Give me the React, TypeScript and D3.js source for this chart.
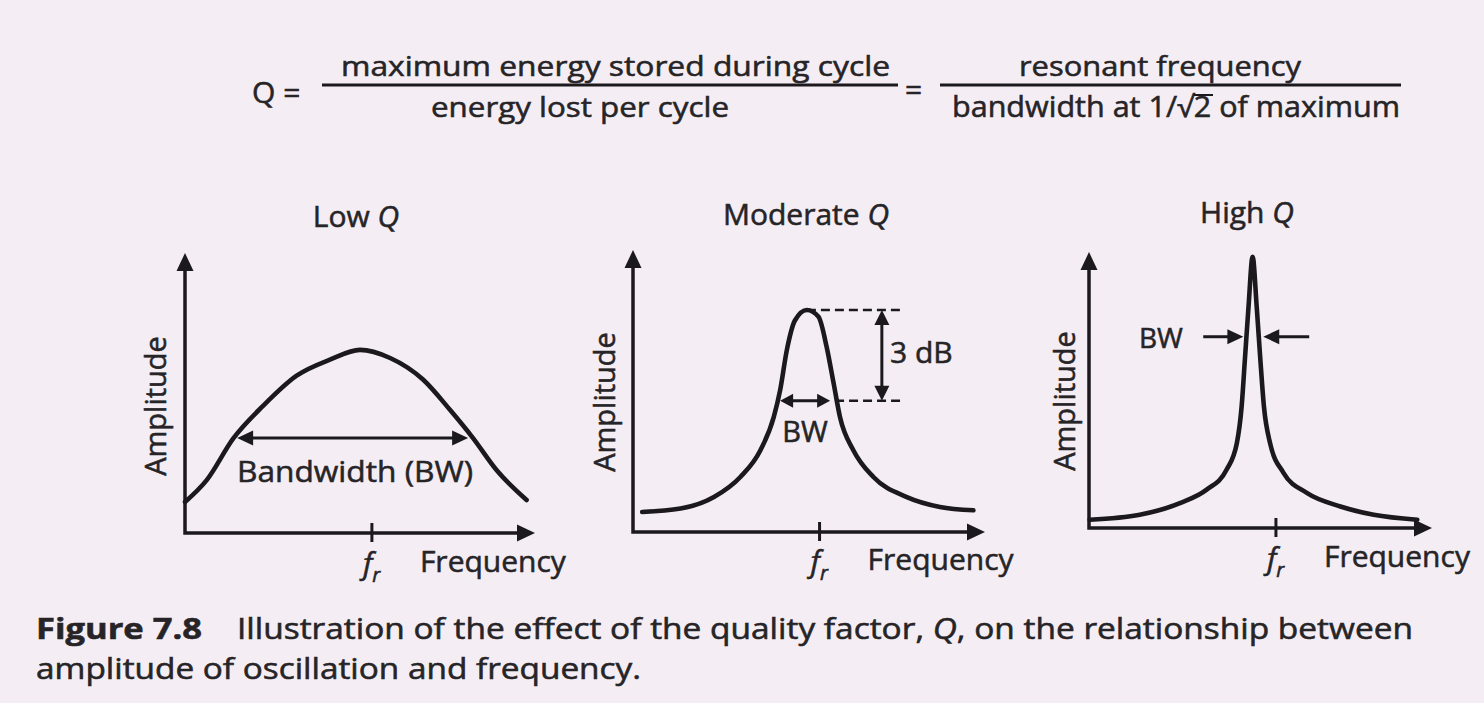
import React from 'react';
import * as d3 from 'd3';

// curve samples: frequency / amplitude, both axes run 0..10
const lowQFreq = [0, 0.62, 1.38, 2.23, 3.19, 4.14, 5.0, 5.86, 6.8, 7.57, 8.23, 8.9, 9.76];
const lowQAmp = [1.11, 1.89, 3.38, 4.54, 5.62, 6.19, 6.54, 6.25, 5.48, 4.4, 3.39, 2.25, 1.18];

const modQFreq = [0.26, 1.35, 2.3, 3.05, 3.62, 4.0, 4.18, 4.37, 4.6, 4.94, 5.27, 5.5, 5.7, 5.88, 6.26, 6.83, 7.78, 8.72, 9.67];
const modQAmp = [0.71, 0.83, 1.24, 1.95, 2.9, 4.08, 5.03, 6.45, 7.5, 7.87, 7.63, 6.57, 5.27, 4.08, 2.9, 1.95, 1.24, 0.89, 0.77];

const highQFreq = [0.02, 1.48, 2.65, 3.43, 4.01, 4.31, 4.45, 4.55, 4.65, 4.77, 4.89, 4.99, 5.1, 5.28, 5.67, 6.35, 7.33, 8.3, 9.57];
const highQAmp = [0.3, 0.48, 0.9, 1.39, 2.11, 3.07, 4.4, 6.2, 8.0, 9.83, 8.0, 6.2, 4.4, 3.07, 2.0, 1.27, 0.78, 0.48, 0.3];

// resonant frequency tick on each x axis
const resonance = [5.34, 5.3, 5.45];

// annotation values (data units)
const lowQBand = [1.49, 8.09]; // bandwidth arrow, left/right
const lowQBandLevel = 3.39;
const modQPeak = 7.87;
const modQHalf = 4.65;
const modQBand = [4.18, 5.6];
const modQDb = 7.07; // x of the 3 dB arrow
const modQDash = [4.94, 5.74, 7.59]; // top start, bottom start, end
const highQLevel = 6.93;
const highQArrows = [3.33, 4.5, 6.42, 5.08];

const INK = '#1b191c';
const TEXT = '#262427';
const BG = '#f4eef4';
const FONT = '"Open Sans", "Noto Sans", sans-serif';

// filled triangle pointing at (tx, ty) along angle
const head = (tx: number, ty: number, angle: number, len = 16, half = 8) => {
  const bx = tx - len * Math.cos(angle);
  const by = ty - len * Math.sin(angle);
  const px = -Math.sin(angle) * half;
  const py = Math.cos(angle) * half;
  return `M${tx},${ty}L${bx + px},${by + py}L${bx - px},${by - py}Z`;
};

const panels = [
  {title: 'Low', xr: [185, 535], yr: [533, 253], titleX: 356, titleY: 227, ampX: 166, ampY: 406, freqY: 572, freq: lowQFreq, amp: lowQAmp},
  {title: 'Moderate', xr: [633, 985], yr: [532, 250], titleX: 806, titleY: 225, ampX: 615, ampY: 402, freqY: 570, freq: modQFreq, amp: modQAmp},
  {title: 'High', xr: [1089, 1432], yr: [528, 252], titleX: 1247, titleY: 223, ampX: 1075, ampY: 401, freqY: 567, freq: highQFreq, amp: highQAmp},
];

const Panel = ({p, i}: {p: any; i: number}) => {
  const x = d3.scaleLinear().domain([0, 10]).range(p.xr);
  const y = d3.scaleLinear().domain([0, 10]).range(p.yr);
  const line = d3
    .line<number>()
    .x(d => x(p.freq[d]))
    .y(d => y(p.amp[d]))
    .curve(d3.curveMonotoneX);
  const idx = p.freq.map((_: number, k: number) => k);
  const tx = x(resonance[i]);
  const x0 = x(0), y0 = y(0), xEnd = x(10), yEnd = y(10);

  let notes: React.ReactNode = null;
  if (i === 0) {
    const ly = y(lowQBandLevel);
    notes = (
      <g>
        <line x1={x(lowQBand[0]) + 12} x2={x(lowQBand[1]) - 12} y1={ly} y2={ly} stroke={INK} strokeWidth={3} />
        <path d={head(x(lowQBand[0]), ly, Math.PI, 16, 7.5)} fill={INK} />
        <path d={head(x(lowQBand[1]), ly, 0, 16, 7.5)} fill={INK} />
        <text x={237} y={482} fontSize={30} textLength={236} lengthAdjust="spacingAndGlyphs">Bandwidth (BW)</text>
      </g>
    );
  } else if (i === 1) {
    const top = y(modQPeak), half = y(modQHalf), ax = x(modQDb);
    notes = (
      <g>
        <line x1={x(modQDash[0])} x2={x(modQDash[2])} y1={top} y2={top} stroke={INK} strokeWidth={2.5} strokeDasharray="9 5" />
        <line x1={x(modQDash[1])} x2={x(modQDash[2])} y1={half} y2={half} stroke={INK} strokeWidth={2.5} strokeDasharray="9 5" />
        <line x1={ax} x2={ax} y1={top + 10} y2={half - 10} stroke={INK} strokeWidth={3} />
        <path d={head(ax, top, -Math.PI / 2, 15, 7.5)} fill={INK} />
        <path d={head(ax, half, Math.PI / 2, 15, 7.5)} fill={INK} />
        <text x={890} y={363} fontSize={30}>3 dB</text>
        <line x1={x(modQBand[0]) + 8} x2={x(modQBand[1]) - 8} y1={half} y2={half} stroke={INK} strokeWidth={3} />
        <path d={head(x(modQBand[0]), half, Math.PI, 13, 7)} fill={INK} />
        <path d={head(x(modQBand[1]), half, 0, 13, 7)} fill={INK} />
        <text x={805} y={442} fontSize={29} textAnchor="middle">BW</text>
      </g>
    );
  } else {
    const ly = y(highQLevel);
    notes = (
      <g>
        <line x1={x(highQArrows[0])} x2={x(highQArrows[1]) - 10} y1={ly} y2={ly} stroke={INK} strokeWidth={3} />
        <path d={head(x(highQArrows[1]), ly, 0, 16, 7.5)} fill={INK} />
        <line x1={x(highQArrows[2])} x2={x(highQArrows[3]) + 10} y1={ly} y2={ly} stroke={INK} strokeWidth={3} />
        <path d={head(x(highQArrows[3]), ly, Math.PI, 16, 7.5)} fill={INK} />
        <text x={1161} y={348} fontSize={28} textAnchor="middle">BW</text>
      </g>
    );
  }

  return (
    <g>
      <text x={p.titleX} y={p.titleY} fontSize={30} textAnchor="middle">
        {p.title} <tspan fontStyle="italic">Q</tspan>
      </text>
      {/* axes */}
      <path d={`M${x0},${yEnd + 12}V${y0}H${xEnd - 12}`} fill="none" stroke={INK} strokeWidth={3.5} />
      <path d={head(x0, yEnd, -Math.PI / 2, 18, 8.5)} fill={INK} />
      <path d={head(xEnd, y0, 0, 18, 8.5)} fill={INK} />
      <line x1={tx} x2={tx} y1={y0 - 10} y2={y0 + 9} stroke={INK} strokeWidth={3} />
      <text x={tx - 9} y={p.freqY + 2} fontSize={30} fontStyle="italic">
        f<tspan fontSize={20} dy={8}>r</tspan>
      </text>
      <text x={tx + 48} y={p.freqY} fontSize={30}>Frequency</text>
      <text transform={`translate(${p.ampX},${p.ampY}) rotate(-90)`} fontSize={29} textAnchor="middle">Amplitude</text>
      <path d={line(idx) || ''} fill="none" stroke={INK} strokeWidth={4.6} strokeLinecap="round" strokeLinejoin="round" />
      {notes}
    </g>
  );
};

const App = () => (
  <svg
    width={1484}
    height={703}
    style={{position: 'absolute', left: 0, top: 0, background: BG}}
    fontFamily={FONT}
  >
    <style>{`text { fill: ${TEXT}; stroke: ${TEXT}; stroke-width: 0.55px; }`}</style>
    <rect width={1484} height={703} fill={BG} />
    {/* formula */}
    <text x={252} y={103} fontSize={30}>Q =</text>
    <text x={341} y={76} fontSize={28} textLength={549} lengthAdjust="spacingAndGlyphs">maximum energy stored during cycle</text>
    <line x1={322} x2={898} y1={85} y2={85} stroke={INK} strokeWidth={3} />
    <text x={431} y={117} fontSize={28} textLength={298} lengthAdjust="spacingAndGlyphs">energy lost per cycle</text>
    <text x={905} y={100} fontSize={30}>=</text>
    <text x={1019} y={76} fontSize={28} textLength={282} lengthAdjust="spacingAndGlyphs">resonant frequency</text>
    <line x1={940} x2={1401} y1={85} y2={85} stroke={INK} strokeWidth={3} />
    <text x={952} y={117} fontSize={29} textLength={448} lengthAdjust="spacingAndGlyphs">bandwidth at 1/√2 of maximum</text>
    <line x1={1194} x2={1213} y1={95} y2={95} stroke={INK} strokeWidth={2} />

    {panels.map((p, i) => (
      <Panel key={p.title} p={p} i={i} />
    ))}

    {/* caption */}
    <text x={36} y={639} fontSize={29} fontWeight="bold" textLength={166} lengthAdjust="spacingAndGlyphs">Figure 7.8</text>
    <text x={237} y={639} fontSize={29} textLength={1176} lengthAdjust="spacingAndGlyphs">
      Illustration of the effect of the quality factor, <tspan fontStyle="italic">Q</tspan>, on the relationship between
    </text>
    <text x={36} y={679} fontSize={29} textLength={605} lengthAdjust="spacingAndGlyphs">amplitude of oscillation and frequency.</text>
  </svg>
);

export default App;
